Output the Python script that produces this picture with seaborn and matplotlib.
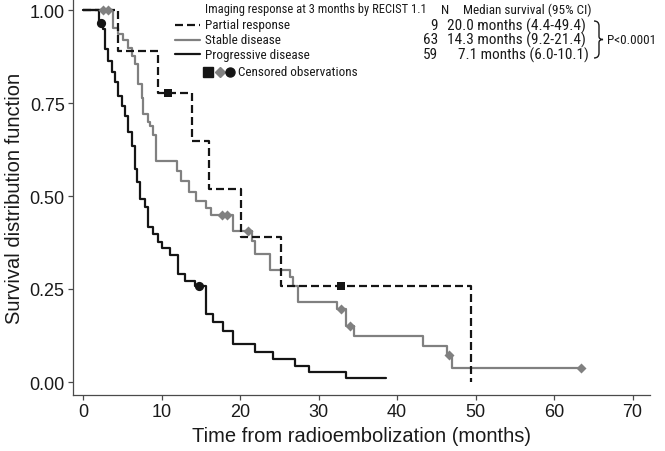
import matplotlib
matplotlib.use("Agg")
import matplotlib.pyplot as plt
import seaborn as sns
import pandas as pd
from matplotlib import font_manager as fm
from matplotlib.lines import Line2D
from matplotlib.path import Path
from matplotlib.patches import PathPatch

# ---------------- data ----------------
partial_t = [0, 4.4, 9.6, 13.9, 16.0, 20.1, 25.2, 49.4]
partial_s = [1.0, 0.889, 0.778, 0.648, 0.519, 0.389, 0.259, 0.0]
partial_cens_t = [10.8, 32.9]
partial_cens_s = [0.778, 0.259]

stable_t = [0, 3.8, 4.5, 5.1, 5.7, 6.2, 6.6, 7.0, 7.5, 7.6, 8.3, 8.5, 8.9, 9.3,
            12.0, 12.5, 13.5, 14.4, 15.7, 16.3, 19.1, 21.5, 21.9, 23.8, 26.4,
            26.7, 27.4, 32.4, 33.5, 34.5, 43.3, 46.4, 47.0, 63.4]
stable_s = [1.0, 0.952, 0.936, 0.920, 0.898, 0.877, 0.855, 0.800, 0.763, 0.720,
            0.700, 0.688, 0.664, 0.593, 0.566, 0.540, 0.512, 0.486, 0.467, 0.448,
            0.407, 0.380, 0.345, 0.302, 0.283, 0.259, 0.216, 0.197, 0.151, 0.124,
            0.097, 0.073, 0.037, 0.037]
stable_cens_t = [2.5, 3.2, 17.7, 18.3, 21.0, 32.9, 34.0, 46.6, 63.4]
stable_cens_s = [1.0, 1.0, 0.448, 0.448, 0.407, 0.197, 0.151, 0.073, 0.037]

prog_t = [0, 2.0, 2.5, 2.8, 3.2, 3.7, 4.1, 4.5, 5.0, 5.4, 5.7, 6.2, 6.6, 6.9, 7.3,
          7.9, 8.3, 8.9, 9.6, 10.1, 11.1, 12.1, 13.0, 14.3, 15.7, 16.6, 17.8,
          19.1, 21.9, 24.2, 27.0, 28.8, 33.5, 38.6]
prog_s = [1.0, 0.966, 0.949, 0.895, 0.863, 0.833, 0.806, 0.769, 0.742, 0.715,
          0.672, 0.634, 0.573, 0.538, 0.492, 0.470, 0.417, 0.398, 0.376, 0.360,
          0.341, 0.290, 0.272, 0.258, 0.183, 0.161, 0.137, 0.102, 0.081, 0.062,
          0.043, 0.027, 0.010, 0.010]
prog_cens_t = [2.3, 14.8]
prog_cens_s = [0.966, 0.258]

groups = ["Partial response", "Stable disease", "Progressive disease"]
n_values = ["9", "63", "59"]
medians = ["20.0 months (4.4-49.4)", "14.3 months (9.2-21.4)", "7.1 months (6.0-10.1)"]
x_ticks = [0, 10, 20, 30, 40, 50, 60, 70]
y_ticks = [0.0, 0.25, 0.5, 0.75, 1.0]
y_ticklabels = ["0.00", "0.25", "0.50", "0.75", "1.00"]

# ---------------- style ----------------
sns.set_style("ticks")
avail = {f.name for f in fm.fontManager.ttflist}
NARROW = "Liberation Sans"
for cand in ["Liberation Sans Narrow", "Arial Narrow", "Roboto Condensed",
             "Archivo Narrow", "PT Sans Narrow"]:
    if cand in avail:
        NARROW = cand
        break
NF = [NARROW, "DejaVu Sans"]
plt.rcParams["font.family"] = ["Liberation Sans", "DejaVu Sans"]

BLACK = "#151515"
GREY = "#808080"
TXT = "#1a1a1a"
AX = "#4a4a4a"

W, H = 665, 452
fig = plt.figure(figsize=(W / 100, H / 100), dpi=100)
ax_l, ax_r, ax_t, ax_b = 73, 650, 0, 396
ax = fig.add_axes([ax_l / W, 1 - ax_b / H, (ax_r - ax_l) / W, (ax_b - ax_t) / H])

px_per_month = 7.85
x0_px = 83
y1_px, y0_px = 11, 383
ax.set_xlim(-(x0_px - ax_l) / px_per_month, (ax_r - x0_px) / px_per_month)
unit = y0_px - y1_px
ax.set_ylim(-(ax_b - y0_px) / unit, (y0_px - ax_t) / unit)

df_p = pd.DataFrame({"t": partial_t, "s": partial_s})
df_s = pd.DataFrame({"t": stable_t, "s": stable_s})
df_g = pd.DataFrame({"t": prog_t, "s": prog_s})

sns.lineplot(data=df_s, x="t", y="s", drawstyle="steps-post", estimator=None, sort=False,
             color=GREY, linewidth=1.6, ax=ax, legend=False)
sns.lineplot(data=df_g, x="t", y="s", drawstyle="steps-post", estimator=None, sort=False,
             color=BLACK, linewidth=1.6, ax=ax, legend=False)
sns.lineplot(data=df_p, x="t", y="s", drawstyle="steps-post", estimator=None, sort=False,
             color=BLACK, linewidth=1.6, ax=ax, legend=False, linestyle=(0, (3.6, 1.8)))

sns.scatterplot(x=stable_cens_t, y=stable_cens_s, marker="D", s=26, color=GREY,
                edgecolor=GREY, linewidth=0, ax=ax, zorder=5)
sns.scatterplot(x=prog_cens_t, y=prog_cens_s, marker="o", s=44, color=BLACK,
                edgecolor=BLACK, linewidth=0, ax=ax, zorder=5)
sns.scatterplot(x=partial_cens_t, y=partial_cens_s, marker="s", s=40, color=BLACK,
                edgecolor=BLACK, linewidth=0, ax=ax, zorder=5)

ax.set_xticks(x_ticks)
ax.set_xticklabels([str(v) for v in x_ticks])
ax.set_yticks(y_ticks)
ax.set_yticklabels(y_ticklabels)
ax.tick_params(axis="both", length=3.5, width=0.9, color=AX, labelsize=13,
               labelcolor=TXT, pad=2.5)
for sp in ["top", "right"]:
    ax.spines[sp].set_visible(False)
for sp in ["left", "bottom"]:
    ax.spines[sp].set_color(AX)
    ax.spines[sp].set_linewidth(0.9)

ax.set_xlabel("Time from radioembolization (months)", fontsize=14.5, color=TXT, labelpad=4)
ax.set_ylabel("Survival distribution function", fontsize=14.5, color=TXT, labelpad=4)

# ---------------- legend block (figure pixel coordinates) ----------------
def P(x, y):
    return (x / W, 1 - y / H)

LFS = 9.5
MFS = 11
ft = fig.transFigure
fig.text(*P(205, 10), "Imaging response at 3 months by RECIST 1.1", family=NF,
         fontsize=9, color=TXT, ha="left", va="center")
fig.text(*P(445, 10), "N", family=NF, fontsize=LFS, color=TXT, ha="center", va="center")
fig.text(*P(463, 10), "Median survival (95% CI)", family=NF,
         fontsize=LFS, color=TXT, ha="left", va="center")

row_y = [26, 40.5, 55]
styles = [(BLACK, (0, (3.6, 1.8))), (GREY, "-"), (BLACK, "-")]
med_x = [447, 447, 458]
for i, g in enumerate(groups):
    c, ls = styles[i]
    fig.add_artist(Line2D([175 / W, 200 / W], [1 - row_y[i] / H] * 2, color=c,
                          linestyle=ls, linewidth=1.6, transform=ft))
    fig.text(*P(205, row_y[i]), g, family=NF, fontsize=LFS,
             color=TXT, ha="left", va="center")
    fig.text(*P(438, row_y[i]), n_values[i], family=NF, fontsize=MFS,
             color=TXT, ha="right", va="center")
    fig.text(*P(med_x[i], row_y[i]), medians[i], family=NF,
             fontsize=MFS, color=TXT, ha="left", va="center")

# brace
bx, by0, by1 = 594, 22, 59
ym = (by0 + by1) / 2
verts = [P(bx, by0), P(bx + 5, by0), P(bx + 5, by0 + 5), P(bx + 5, ym - 3),
         P(bx + 5, ym), P(bx + 9, ym), P(bx + 5, ym), P(bx + 5, ym + 3),
         P(bx + 5, by1 - 5), P(bx + 5, by1), P(bx, by1)]
codes = [Path.MOVETO, Path.CURVE3, Path.CURVE3, Path.LINETO, Path.CURVE3, Path.CURVE3,
         Path.CURVE3, Path.CURVE3, Path.LINETO, Path.CURVE3, Path.CURVE3]
fig.add_artist(PathPatch(Path(verts, codes), transform=ft, facecolor="none",
                         edgecolor=TXT, linewidth=1.0))
fig.text(*P(607, 40.5), "P<0.0001", family=NF, fontsize=LFS,
         color=TXT, ha="left", va="center")

# censored observations key
fig.add_artist(Line2D([208 / W], [1 - 73 / H], marker="s", markersize=6.5, color=BLACK,
                      linestyle="none", transform=ft))
fig.add_artist(Line2D([219.5 / W], [1 - 73 / H], marker="D", markersize=5, color=GREY,
                      linestyle="none", transform=ft))
fig.add_artist(Line2D([230 / W], [1 - 73 / H], marker="o", markersize=6.5, color=BLACK,
                      linestyle="none", transform=ft))
fig.text(*P(238, 73), "Censored observations", family=NF,
         fontsize=LFS, color=TXT, ha="left", va="center")

fig.savefig("out.png", dpi=100)
